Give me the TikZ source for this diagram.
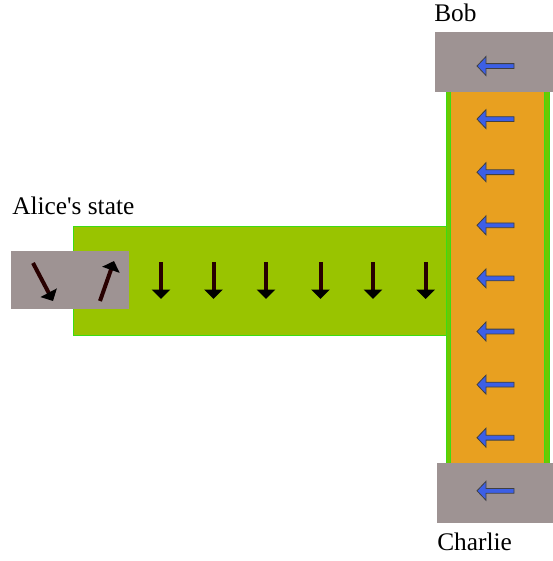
\documentclass[tikz,border=0pt]{standalone}
\usepackage{fontspec}
\setmainfont{Liberation Serif}
\usetikzlibrary{arrows.meta}

\definecolor{barGreen}{RGB}{153,196,0}
\definecolor{edgeGreen}{RGB}{60,220,20}
\definecolor{sideGreen}{RGB}{110,200,0}
\definecolor{wireOrange}{RGB}{232,160,32}
\definecolor{boxGray}{RGB}{158,147,147}
\definecolor{spinBlue}{RGB}{60,95,230}
\definecolor{spinDark}{RGB}{40,0,0}

\tikzset{
  lbl/.style={font=\fontsize{19}{22}\selectfont, inner sep=0pt, anchor=base west},
  spin/.style={spinDark, line width=3pt, -{Triangle[width=13.5pt,length=7pt,black]}},
  blueSpin/.style={draw=black!75, fill=spinBlue, line width=.6pt, line join=miter}
}

\begin{document}
\begin{tikzpicture}[x=.75pt, y=-.75pt]
\useasboundingbox (0,0) rectangle (553,561);

% channel
\draw [edgeGreen, fill=barGreen] (73,226) rectangle (451,335);
\draw [edgeGreen, fill=sideGreen] (446,80) rectangle (549.5,475);
\draw [edgeGreen, fill=wireOrange] (450.5,80) rectangle (544,475);

% boxes
\fill [boxGray] (11,251) rectangle (129,309);
\fill [boxGray] (435,32) rectangle (553,92);
\fill [boxGray] (437,463) rectangle (553,523);

% spins along the bar
\foreach \x in {161,213.5,266,320.5,373,425.7}
{
   \draw [spin](\x,262)--(\x,299);
}
\draw [spin](33,263)--(53,301);
\draw [spin](100,301)--(114,261);

% spins in the wire
\foreach \y in {66,119.1,...,491}
{
   \draw [blueSpin](477,\y)--(486,\y-9.5)--(486,\y-2.4)--(514,\y-2.4)--(514,\y+2.4)--(486,\y+2.4)--(486,\y+9.5)--cycle;
}

\node (alice) [lbl] at (12,214){Alice\textquotesingle s state};
\node (bob) [lbl] at (434,21){Bob};
\node (charlie) [lbl] at (437,550){Charlie};
\end{tikzpicture}
\end{document}
